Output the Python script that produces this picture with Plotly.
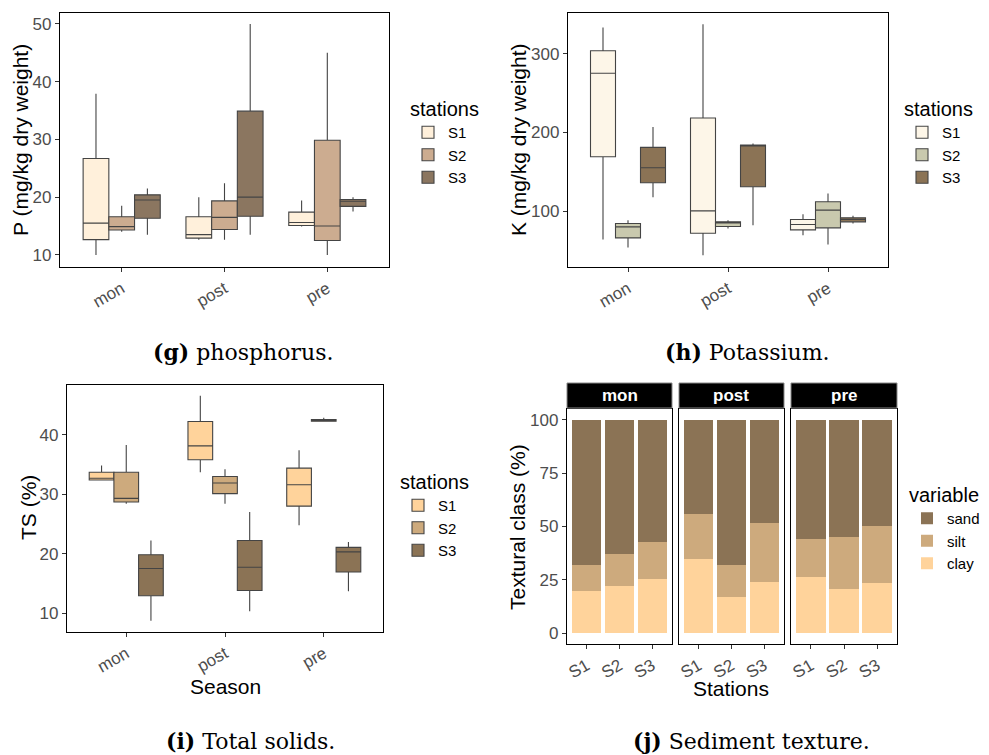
import plotly.graph_objects as go

seasons = ["mon", "post", "pre"]
stations = ["S1", "S2", "S3"]

# Phosphorus box stats, [station][season]
P_lower = [[10.0, 12.6, 14.9], [14.0, 12.6, 10.0], [13.5, 13.5, 17.5]]
P_q1 = [[12.65, 12.9, 15.1], [14.3, 14.4, 12.5], [16.35, 16.7, 18.4]]
P_median = [[15.5, 13.5, 15.6], [14.9, 16.5, 15.0], [19.5, 20.0, 19.3]]
P_q3 = [[26.7, 16.6, 17.4], [16.6, 19.35, 29.85], [20.4, 34.9, 19.6]]
P_upper = [[37.9, 20.0, 19.4], [18.5, 22.4, 45.0], [21.5, 50.0, 20.0]]

# Potassium box stats
K_lower = [[63.9, 44.0, 69.4], [53.7, 77.9, 57.5], [117.8, 82.2, 84.3]]
K_q1 = [[169.2, 72.0, 76.2], [66.0, 80.5, 78.8], [136.1, 131.0, 86.4]]
K_median = [[275.4, 100.4, 83.0], [80.0, 85.1, 101.3], [155.2, 182.8, 89.4]]
K_q3 = [[304.0, 218.5, 89.4], [84.3, 86.4, 111.9], [181.1, 184.1, 91.5]]
K_upper = [[333.5, 337.8, 96.2], [88.5, 88.5, 122.5], [207.0, 186.2, 94.1]]

# Total solids box stats
TS_lower = [[32.3, 33.7, 24.8], [28.4, 28.4, 42.25], [8.7, 10.3, 13.65]]
TS_q1 = [[32.4, 35.8, 28.0], [28.7, 30.1, 42.3], [12.9, 13.8, 16.9]]
TS_median = [[32.7, 38.15, 31.6], [29.3, 31.9, 42.5], [17.5, 17.7, 20.3]]
TS_q3 = [[33.7, 42.25, 34.4], [33.7, 33.0, 42.6], [19.8, 22.2, 21.05]]
TS_upper = [[34.85, 46.6, 37.4], [38.3, 34.2, 42.9], [22.2, 27.0, 21.95]]

# Sediment texture, [season][station]
clay = [[19.8, 22.1, 25.4], [35.0, 17.1, 24.1], [26.2, 20.9, 23.7]]
silt = [[12.1, 15.0, 17.3], [20.9, 14.8, 27.5], [18.0, 24.1, 26.6]]
sand = [[68.1, 62.9, 57.3], [44.1, 68.1, 48.4], [55.8, 55.0, 49.7]]

P_colors = ["#FFF0DB", "#CCAC90", "#8B7660"]
K_colors = ["#FDF6E8", "#C9C9AE", "#8B7355"]
TS_colors = ["#FFD39B", "#CDAA7D", "#8B7355"]
tex_colors = {"clay": "#FFD39B", "silt": "#CDAA7D", "sand": "#8B7355"}

FONT = "Liberation Sans, Arial, sans-serif"
SERIF = "DejaVu Serif, Liberation Serif, serif"
TICKC = "#4D4D4D"

fig = go.Figure()

def add_boxes(lower, q1, med, q3, upper, colors, xa, ya, leg, grp):
    for i, s in enumerate(stations):
        fig.add_trace(go.Box(
            x=seasons, q1=q1[i], median=med[i], q3=q3[i],
            lowerfence=lower[i], upperfence=upper[i],
            name=s, fillcolor=colors[i],
            line=dict(color="#444444", width=1.1),
            whiskerwidth=0, boxpoints=False,
            offsetgroup=s, alignmentgroup=grp,
            xaxis=xa, yaxis=ya, legend=leg, showlegend=True,
        ))

add_boxes(P_lower, P_q1, P_median, P_q3, P_upper, P_colors, "x", "y", "legend", "g")
add_boxes(K_lower, K_q1, K_median, K_q3, K_upper, K_colors, "x2", "y2", "legend2", "h")
add_boxes(TS_lower, TS_q1, TS_median, TS_q3, TS_upper, TS_colors, "x3", "y3", "legend3", "i")

tex_series = [("clay", clay), ("silt", silt), ("sand", sand)]
facet_axes = [("x4", "y4"), ("x5", "y5"), ("x6", "y6")]
for name, vals in tex_series:
    for j, (xa, ya) in enumerate(facet_axes):
        fig.add_trace(go.Bar(
            x=stations, y=vals[j], name=name,
            marker=dict(color=tex_colors[name], line=dict(width=0)),
            xaxis=xa, yaxis=ya, legend="legend4",
            legendgroup=name, showlegend=(j == 0),
        ))

def H(px):
    return 1 - px / 755.0

def W(px):
    return px / 989.0

axis_common = dict(
    showline=True, mirror=True, linecolor="black", linewidth=1.3,
    showgrid=False, zeroline=False, ticks="outside", ticklen=4,
    tickcolor="#333333", tickfont=dict(family=FONT, size=17, color=TICKC),
    automargin=False,
)
title_font = dict(family=FONT, size=21, color="black")

lay = dict(
    width=989, height=755, margin=dict(l=0, r=0, t=0, b=0, autoexpand=False),
    paper_bgcolor="white", plot_bgcolor="white",
    boxmode="group", boxgap=0.25, boxgroupgap=0,
    barmode="stack", bargap=0.1,
    font=dict(family=FONT, size=17, color="black"),
)

# Panel g
lay["xaxis"] = dict(axis_common, domain=[W(60), W(389)], anchor="y",
                    type="category", range=[-0.6, 2.6], tickangle=-30)
lay["yaxis"] = dict(axis_common, domain=[H(267), H(13)], anchor="x",
                    range=[7.9, 51.9], tickvals=[10, 20, 30, 40, 50])
# Panel h
lay["xaxis2"] = dict(axis_common, domain=[W(568), W(888)], anchor="y2",
                     type="category", range=[-0.6, 2.6], tickangle=-30)
lay["yaxis2"] = dict(axis_common, domain=[H(267), H(13)], anchor="x2",
                     range=[29, 352], tickvals=[100, 200, 300])
# Panel i
lay["xaxis3"] = dict(axis_common, domain=[W(67), W(383)], anchor="y3",
                     type="category", range=[-0.6, 2.6], tickangle=-30)
lay["yaxis3"] = dict(axis_common, domain=[H(632), H(385)], anchor="x3",
                     range=[6.8, 48.4], tickvals=[10, 20, 30, 40])
# Panel j facets
facet_x = [(567, 672), (679, 784), (791, 897)]
for j, (x0, x1) in enumerate(facet_x):
    xn = "xaxis%d" % (4 + j)
    yn = "yaxis%d" % (4 + j)
    lay[xn] = dict(axis_common, domain=[W(x0), W(x1)], anchor="y%d" % (4 + j),
                   type="category", range=[-0.6, 2.6], tickangle=-30)
    ydict = dict(axis_common, domain=[H(644), H(409)], anchor="x%d" % (4 + j),
                 range=[-5, 105], tickvals=[0, 25, 50, 75, 100])
    if j > 0:
        ydict["matches"] = "y4"
        ydict["showticklabels"] = False
        ydict["ticks"] = ""
    lay[yn] = ydict

leg_title_font = dict(family=FONT, size=20, color="black")
leg_common = dict(
    xanchor="left", yanchor="top", bgcolor="rgba(0,0,0,0)",
    font=dict(family=FONT, size=15, color="black"),
    itemwidth=30, tracegroupgap=0,
)
lay["legend"] = dict(leg_common, x=W(408), y=H(90), title=dict(text="stations", font=leg_title_font))
lay["legend2"] = dict(leg_common, x=W(902), y=H(90), title=dict(text="stations", font=leg_title_font))
lay["legend3"] = dict(leg_common, x=W(398), y=H(463), title=dict(text="stations", font=leg_title_font))
lay["legend4"] = dict(leg_common, x=W(907), y=H(476), traceorder="reversed",
                      title=dict(text="variable", font=leg_title_font))

fig.update_layout(**lay)

# axis titles (placed like the reference)
axis_titles = [
    ("P (mg/kg dry weight)", 20, 140, -90),
    ("K (mg/kg dry weight)", 518, 140, -90),
    ("TS (%)", 28, 508, -90),
    ("Textural class (%)", 517, 527, -90),
    ("Season", 225, 686, 0),
    ("Stations", 731, 688, 0),
]
for txt, cx, cy, ang in axis_titles:
    fig.add_annotation(x=W(cx), y=H(cy), xref="paper", yref="paper", text=txt,
                       textangle=ang, xanchor="center", yanchor="middle",
                       showarrow=False, font=title_font)

# facet strips
for j, (x0, x1) in enumerate(facet_x):
    fig.add_shape(type="rect", xref="paper", yref="paper",
                  x0=W(x0), x1=W(x1), y0=H(408), y1=H(383),
                  fillcolor="black", line=dict(color="#888888", width=1), layer="above")
    fig.add_annotation(x=(W(x0) + W(x1)) / 2, y=H(395.5), xref="paper", yref="paper",
                       xanchor="center", yanchor="middle",
                       text="<b>%s</b>" % seasons[j], showarrow=False,
                       font=dict(family=FONT, size=17, color="white"))

captions = [
    ("<b>(g)</b> phosphorus.", 243, 352),
    ("<b>(h)</b> Potassium.", 747, 352),
    ("<b>(i)</b> Total solids.", 250, 741),
    ("<b>(j)</b> Sediment texture.", 751, 741),
]
for txt, cx, cy in captions:
    fig.add_annotation(x=W(cx), y=H(cy), xref="paper", yref="paper", text=txt,
                       xanchor="center", yanchor="middle",
                       showarrow=False, font=dict(family=SERIF, size=22, color="black"))

fig.write_html(
    "out.html",
    config={"displayModeBar": False},
    post_script="document.body.style.margin='0';document.body.style.overflow='hidden';",
)
